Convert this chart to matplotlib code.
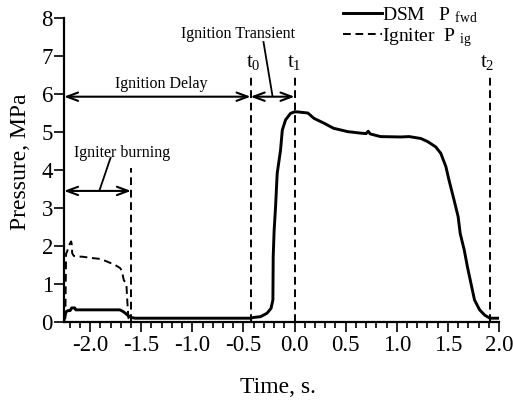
import matplotlib
matplotlib.use("Agg")
import matplotlib.pyplot as plt
from matplotlib.ticker import MultipleLocator, FixedLocator

plt.rcParams['font.family'] = ['Liberation Serif', 'DejaVu Serif']
plt.rcParams['mathtext.fontset'] = 'custom'
plt.rcParams['mathtext.rm'] = 'Liberation Serif'
plt.rcParams['mathtext.it'] = 'Liberation Serif'

# ---- data ----
dsm_t = [-2.255, -2.245, -2.235, -2.215, -2.196, -2.18, -2.15, -2.14, -1.71, -1.68,
         -1.65, -1.62, -1.60, -1.56, -0.43, -0.40, -0.333, -0.27, -0.23, -0.212,
         -0.209, -0.20, -0.186, -0.17, -0.137, -0.12, -0.088, -0.04, 0.0, 0.03,
         0.13, 0.19, 0.29, 0.38, 0.52, 0.65, 0.70, 0.72, 0.74, 0.84,
         1.04, 1.12, 1.235, 1.30, 1.38, 1.43, 1.48, 1.51, 1.56, 1.60,
         1.62, 1.66, 1.69, 1.725, 1.76, 1.81, 1.86, 1.91, 2.0]
dsm_p = [0.05, 0.18, 0.27, 0.30, 0.30, 0.37, 0.37, 0.32, 0.32, 0.28,
         0.22, 0.15, 0.12, 0.10, 0.10, 0.12, 0.14, 0.23, 0.36, 0.58,
         1.72, 2.40, 3.03, 3.91, 4.53, 5.05, 5.32, 5.49, 5.53, 5.53,
         5.50, 5.36, 5.23, 5.10, 5.01, 4.97, 4.96, 5.02, 4.95, 4.88,
         4.87, 4.88, 4.83, 4.75, 4.61, 4.44, 4.09, 3.74, 3.21, 2.77,
         2.33, 1.89, 1.46, 1.02, 0.58, 0.32, 0.18, 0.10, 0.10]

ig_t = [-2.25, -2.242, -2.235, -2.225, -2.21, -2.196, -2.185, -2.18, -2.175, -2.16,
        -2.12, -2.08, -1.97, -1.90, -1.833, -1.755, -1.706, -1.69, -1.67, -1.657,
        -1.645, -1.635, -1.625, -1.60]
ig_p = [0.10, 0.10, 1.80, 1.85, 2.00, 2.07, 2.12, 2.05, 1.81, 1.74,
        1.72, 1.72, 1.68, 1.66, 1.59, 1.50, 1.42, 1.35, 1.10, 1.05,
        1.00, 0.50, 0.10, 0.10]

t_ig_end = -1.60
t0, t1, t2 = -0.43, 0.0, 1.91
x_ticks = [-2.0, -1.5, -1.0, -0.5, 0.0, 0.5, 1.0, 1.5, 2.0]
x_tick_labels = ['-2.0', '-1.5', '-1.0', '-0.5', '0.0', '0.5', '1.0', '1.5', '2.0']
y_ticks = [0, 1, 2, 3, 4, 5, 6, 7, 8]

fig = plt.figure(figsize=(5.13, 4.01), dpi=100)
ax = fig.add_axes([0.1248, 0.197, 0.848, 0.758])

ax.plot(dsm_t, dsm_p, color='black', lw=2.1, solid_joinstyle='round',
        label='DSM   P $_{\\mathrm{fwd}}$')
ax.plot(ig_t, ig_p, color='black', lw=1.4, dashes=(4, 2.4),
        label='Igniter  P $_{\\mathrm{ig}}$')

dash_kw = dict(color='black', lw=1.4, dashes=(4, 2.4))
ax.plot([t_ig_end, t_ig_end], [0, 4.05], **dash_kw)
ax.plot([t0, t0], [0, 6.55], **dash_kw)
ax.plot([t1, t1], [0, 6.45], **dash_kw)
ax.plot([t2, t2], [0, 6.5], **dash_kw)

ax.set_xlim(-2.255, 2.0)
ax.set_ylim(0, 8)

for s in ['top', 'right']:
    ax.spines[s].set_visible(False)
for s in ['left', 'bottom']:
    ax.spines[s].set_linewidth(1.6)

ax.xaxis.set_major_locator(FixedLocator(x_ticks))
ax.set_xticklabels(x_tick_labels)
ax.xaxis.set_minor_locator(MultipleLocator(0.1))
ax.yaxis.set_major_locator(FixedLocator(y_ticks))
ax.tick_params(axis='x', which='major', direction='out', length=7.5, width=1.2, labelsize=16.5, pad=1.5)
ax.tick_params(axis='x', which='minor', direction='out', length=4, width=1.2)
ax.tick_params(axis='y', which='major', direction='out', length=7.5, width=1.2, labelsize=16.5, pad=0.5)

ax.set_xlabel('Time, s.', fontsize=17)
ax.set_ylabel('Pressure, MPa', fontsize=17)
ax.xaxis.set_label_coords(0.492, -0.18)
ax.yaxis.set_label_coords(-0.076, 0.526)

arr = dict(arrowstyle='<->,head_length=0.8,head_width=0.3', lw=1.5, color='black',
           shrinkA=0, shrinkB=0, mutation_scale=10)
ax.annotate('', xy=(-2.255, 5.93), xytext=(t0, 5.93), arrowprops=arr, annotation_clip=False)
ax.annotate('', xy=(t0, 5.93), xytext=(t1, 5.93), arrowprops=arr)
ax.annotate('', xy=(-2.255, 3.45), xytext=(t_ig_end, 3.45), arrowprops=arr, annotation_clip=False)

ax.text(-1.30, 6.26, 'Ignition Delay', fontsize=11.5, ha='center', va='center')
ax.text(-0.55, 7.58, 'Ignition Transient', fontsize=11.5, ha='center', va='center')
ax.text(-1.686, 4.45, 'Igniter burning', fontsize=11.5, ha='center', va='center')
ax.plot([-0.304, -0.216], [7.37, 5.95], color='black', lw=1.3)
ax.plot([-1.80, -1.91], [4.32, 3.45], color='black', lw=1.3)

ax.text(t0 + 0.03, 6.58, '$\\mathrm{t}_0$', fontsize=15, ha='center', va='bottom')
ax.text(t1, 6.58, '$\\mathrm{t}_1$', fontsize=15, ha='center', va='bottom')
ax.text(t2 - 0.03, 6.58, '$\\mathrm{t}_2$', fontsize=15, ha='center', va='bottom')

leg = ax.legend(loc='upper left', bbox_to_anchor=(343 / 513, 1 - 5 / 401),
                bbox_transform=fig.transFigure, frameon=False, fontsize=14,
                handlelength=2.0, handletextpad=0.0, labelspacing=0.05, borderpad=0,
                borderaxespad=0)

fig.savefig('out.png', dpi=100)
